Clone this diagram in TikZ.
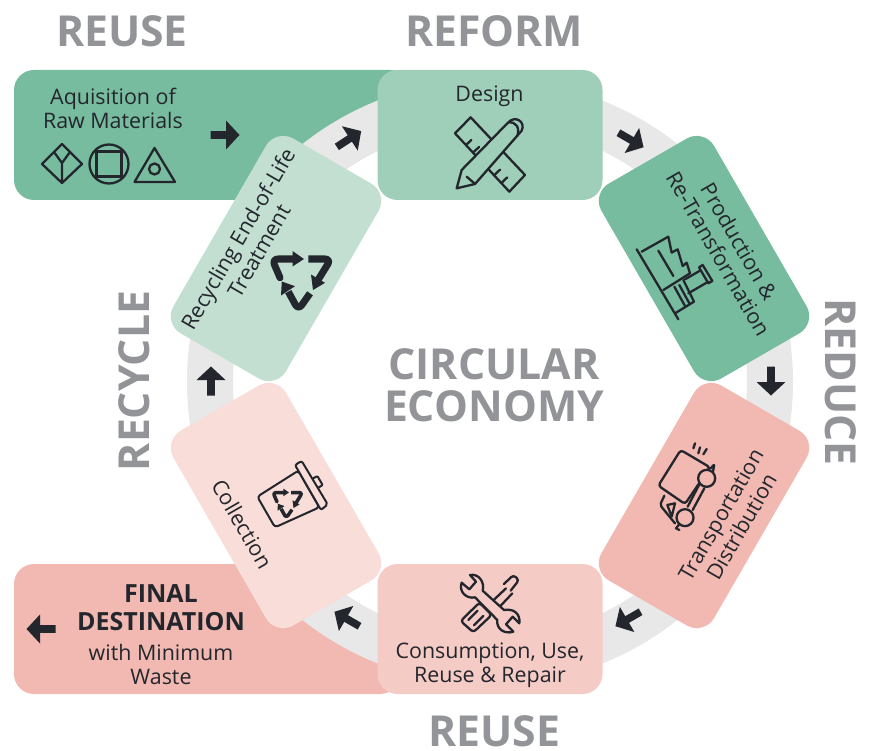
\documentclass[tikz,border=0pt]{standalone}
\usepackage{fontspec}
\setmainfont{Open Sans}
\definecolor{inkc}{HTML}{23262D}
\definecolor{headc}{HTML}{929497}
\definecolor{ringc}{HTML}{E8E8E8}
\definecolor{gA}{HTML}{78BCA0}
\definecolor{gB}{HTML}{9FCFB8}
\definecolor{gC}{HTML}{C2DFD2}
\definecolor{rA}{HTML}{F1B9B1}
\definecolor{rB}{HTML}{F5CBC5}
\definecolor{rC}{HTML}{F8DDD8}
\tikzset{
  box/.style={rounded corners=20pt,minimum width=225pt,minimum height=130pt,inner sep=0pt,outer sep=0pt,transform shape},
  lbl/.style={text=inkc,align=center,inner sep=0pt,transform shape,font=\fontsize{21.4}{24}\selectfont},
  head/.style={text=headc,inner sep=0pt,align=center,font=\bfseries\fontsize{42.7}{42}\selectfont},
  ico/.style={draw=inkc,line width=2.3pt,line join=round,line cap=round},
  zoomed/.style={x=0.33333pt,y=-0.33333pt},
  blockarrow/.pic={\fill[inkc] (-14.5,-3.8)--(1,-3.8)--(1,-14.5)--(14.5,0)--(1,14.5)--(1,3.8)--(-14.5,3.8)--cycle;}
}
\newcommand{\recyc}[3]{%
 \begin{scope}[shift={(#1,#2)},scale=#3]
  \draw[inkc,line width=#3*7pt,line cap=round,line join=round,rounded corners=#3*6pt] (-20,-2.3)--(-28,-21)--(-7,-21);
  \fill[inkc] (-7.5,-29)--(-7.5,-13.5)--(4,-21)--cycle;
  \draw[inkc,line width=#3*7pt,line cap=butt,line join=round,rounded corners=#3*6pt] (8.3,-21)--(31,-21)--(18,0);
  \fill[inkc] (11,-5.5)--(25,2.8)--(13,10)--cycle;
  \draw[inkc,line width=#3*7pt,line cap=butt,line join=round,rounded corners=#3*6pt] (10,13.3)--(-1.7,30)--(-11.7,11.7);
  \fill[inkc] (-19,15.5)--(-5,6.2)--(-18.2,1.5)--cycle;
 \end{scope}}
\begin{document}
\begin{tikzpicture}[x=1pt,y=-1pt]
\useasboundingbox (0,0) rectangle (872,751);
\coordinate (ctr) at (490,382);
% side panels
\node[rounded corners=20pt,fill=gA,minimum width=396pt,minimum height=130pt,inner sep=0pt,outer sep=0pt] (raw) at (212,135) {};
\node[rounded corners=20pt,fill=rA,minimum width=386pt,minimum height=130pt,inner sep=0pt,outer sep=0pt] (final) at (207,629) {};
% ring
\fill[white] (ctr) circle[radius=257pt];
\draw[ringc,line width=46pt] (ctr) circle[radius=280pt];
% side panel texts
\node[lbl] (rawt) at (113,108) {Aquisition of\\Raw Materials};
\node[lbl,font=\bfseries\fontsize{25}{28}\selectfont] (finalt) at (161,608) {FINAL\\DESTINATION};
\node[lbl] (finalu) at (161,664) {with Minimum\\Waste};
% raw icons
\draw[ico] (42,164)--(62,144)--(82,164)--(62,183)--cycle (54,152)--(62,163)--(70,152) (62,163)--(62,183);
\draw[ico] (109,164) circle[radius=19.5pt];
\draw[ico] (96.5,151.5) rectangle (121.5,176.5);
\draw[ico] (154.5,148)--(175,182)--(134.5,182)--cycle;
\draw[ico] (154.5,169) circle[radius=5.5pt];
% boxes
\begin{scope}[shift={(490,135)}]
 \node[box,fill=gB] (design) at (0,0) {};
 \node[lbl] (designt) at (-0.5,-38.5) {Design};
\end{scope}
\begin{scope}[shift={(704,258.5)},rotate=-60]
 \node[box,fill=gA] (prod) at (0,0) {};
 \node[lbl] (prodt) at (3,-27) {Production \&\\Re-Transformation};
\end{scope}
\begin{scope}[shift={(704,505.5)},rotate=60]
 \node[box,fill=rA] (trans) at (0,0) {};
 \node[lbl] (transt) at (0.5,31) {Transportation\\Distribution};
\end{scope}
\begin{scope}[shift={(490,629)}]
 \node[box,fill=rB] (cons) at (0,0) {};
 \node[lbl] (const) at (0,36) {Consumption, Use,\\Reuse \& Repair};
\end{scope}
\begin{scope}[shift={(276,505.5)},rotate=-60]
 \node[box,fill=rC] (coll) at (0,0) {};
 \node[lbl] (collt) at (-1,38.5) {Collection};
\end{scope}
\begin{scope}[shift={(276,258.5)},rotate=60]
 \node[box,fill=gC] (recy) at (0,0) {};
 \node[lbl] (recyt) at (-2,-31) {Recycling End-of-Life\\Treatment};
\end{scope}
% design icon
\begin{scope}[shift={(440,80)},zoomed]
 \draw[ico] (92,112)--(45,160)--(208,335)--(255,285)--cycle;
 \draw[ico] (78,195)--(94,180) (99,218)--(117,201) (162,286)--(180,269) (184,309)--(202,292);
 \draw[ico,fill=gB] (50,325)--(65,270)--(205,127) .. controls (225,105) and (258,125) .. (245,152)--(105,312)--cycle;
 \draw[ico] (205,127) .. controls (228,125) and (240,142) .. (232,168);
 \draw[ico] (80,290)--(103,310);
\end{scope}
% factory icon
\begin{scope}[shift={(630,230)},zoomed]
 \draw[ico] (20,58)--(145,268);
 \draw[ico] (35,65)--(115,20)--(125,68)--(143,58)--(158,108)--(170,98)--(180,130)--(100,180);
 \draw[ico] (85,62)--(130,138);
 \draw[ico] (160,150)--(192,215)--(135,250);
 \draw[ico] (133,170)--(165,228) (148,165)--(178,220);
 \draw[ico] (207,112)--(218,105)--(247,153)--(235,160)--cycle;
 \draw[ico] (210,122)--(165,148) (235,155)--(175,190);
\end{scope}
% truck icon
\begin{scope}[shift={(650,435)},zoomed]
 \draw[ico,rounded corners=3pt] (92,45)--(180,97)--(105,207)--(25,152)--cycle;
 \draw[ico,rounded corners=2pt] (43,182)--(30,210)--(75,265);
 \draw[ico] (52,210)--(75,205)--(65,245)--cycle;
 \draw[ico] (135,25)--(130,40) (150,37)--(145,55) (170,42)--(160,58);
 \draw[ico,rounded corners=1pt] (182,100)--(193,88)--(188,115);
 \draw[ico] (90,265)--(78,280)--(88,285);
 \draw[ico] (163,160)--(128,225) (147,150)--(113,215);
 \draw[ico,fill=rA] (170,130) circle[radius=8.5pt];
 \draw[ico,fill=rA] (105,248) circle[radius=8.5pt];
\end{scope}
% tools icon
\begin{scope}[shift={(300,560)},zoomed]
 \draw[ico,rounded corners=3pt] (482,183)--(538,128)--(575,165)--(520,217)--cycle;
 \draw[ico] (505,180)--(533,152) (522,196)--(550,168);
 \draw[ico] (565,135)--(618,85) (585,155)--(637,100);
 \draw[ico,rounded corners=3pt] (612,72)--(640,45)--(657,60)--(632,92);
 \draw[ico,fill=rB] (510,45)--(528,65)--(508,88)--(485,68) .. controls (475,95) and (500,118) .. (525,112)--(592,180) .. controls (588,205) and (612,224) .. (640,215)--(618,193)--(638,170)--(658,190) .. controls (662,160) and (640,145) .. (612,150)--(548,92) .. controls (555,65) and (535,40) .. (510,45)--cycle;
\end{scope}
% bin icon
\begin{scope}[shift={(180,400)},zoomed]
 \draw[ico,line width=2pt,rounded corners=3pt] (232,290)--(355,212)--(418,322)--(285,382)--cycle;
 \draw[ico,line width=2pt,fill=rC,rounded corners=2pt] (345,195)--(365,183)--(443,313)--(423,330)--cycle;
 \draw[ico,line width=2pt,rounded corners=1pt] (400,235)--(412,228)--(428,255)--(415,263);
\end{scope}
\recyc{287}{503}{0.5}
\recyc{300}{280}{1}
% block arrows
\pic at (225,135) {blockarrow};
\pic[rotate=33] at (349,139) {blockarrow};
\pic[rotate=-30] at (631,140) {blockarrow};
\pic[rotate=-90] at (771,381) {blockarrow};
\pic[rotate=210] at (628,619) {blockarrow};
\pic[rotate=150] at (347,619) {blockarrow};
\pic[rotate=90] at (211,381) {blockarrow};
\pic[rotate=180] at (41,629) {blockarrow};
% headings
\node[head] (h1) at (122,31) {REUSE};
\node[head] (h2) at (494,31) {REFORM};
\node[head] (h3) at (494,731) {REUSE};
\node[head,rotate=-90] (h4) at (841,382) {REDUCE};
\node[head,rotate=90] (h5) at (134,381) {RECYCLE};
\node[head] (h6) at (494,385) {CIRCULAR\\ECONOMY};
\end{tikzpicture}
\end{document}
